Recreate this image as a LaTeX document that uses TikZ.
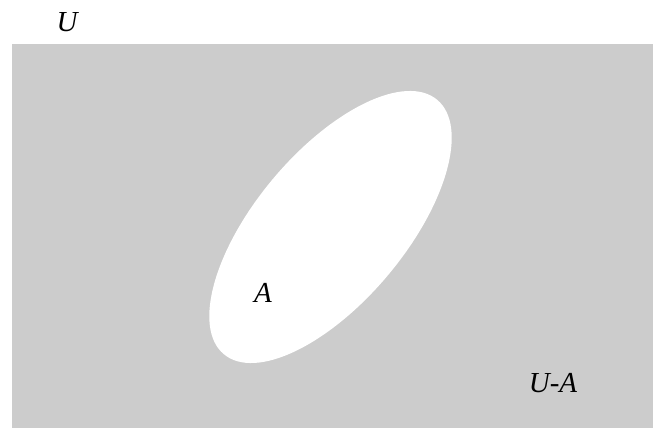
\documentclass[tikz,border=0pt]{standalone}
\usepackage{fontspec}
\setmainfont{Liberation Serif}[ItalicFont={Liberation Serif Italic}]
\newfontfamily\lblfont{Liberation Serif Italic}
\begin{document}
\begin{tikzpicture}[x=1pt,y=1pt,
  lbl/.style={font=\lblfont\fontsize{29}{31}\selectfont, inner sep=0pt}]
\useasboundingbox (0,0) rectangle (654,428);
\fill[fill={rgb,255:red,204;green,204;blue,204}] (12,0) rectangle (653,384);
\fill[white, rotate around={50:(330.5,201)}] (330.5,201) ellipse [x radius=166, y radius=75];
\node[lbl] (U) at (67,406) {U};
\node[lbl] (A) at (263,135) {A};
\node[lbl] (UA) at (553,45) {U-A};
\end{tikzpicture}
\end{document}
